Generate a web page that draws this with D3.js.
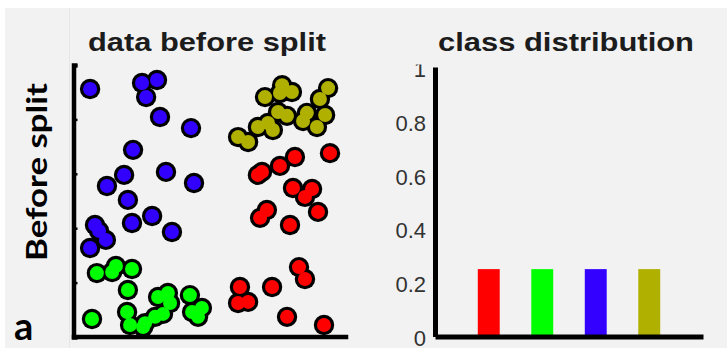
<!DOCTYPE html>
<html>
<head>
<meta charset="utf-8">
<script src="https://cdn.jsdelivr.net/npm/d3@7"></script>
<style>
  html, body { margin: 0; padding: 0; background: #ffffff; }
  svg { display: block; }
</style>
</head>
<body>
<script>
// ---- data ----
const classNames  = ["class 1", "class 2", "class 3", "class 4"];
const classColors = ["#ff0000", "#00ff00", "#3300ff", "#b0b000"];
const classShares = [0.25, 0.25, 0.25, 0.25];
const shareTicks  = [0, 0.2, 0.4, 0.6, 0.8, 1];
const shareTickLabels = ["0", "0.2", "0.4", "0.6", "0.8", "1"];
const featureTicks = [0, 0.2, 0.4, 0.6, 0.8, 1];

// sample positions in the unit square, one list per class
const redPoints = [
  [0.943, 0.676], [0.814, 0.662], [0.759, 0.629], [0.693, 0.607], [0.678, 0.596],
  [0.807, 0.548], [0.877, 0.544], [0.851, 0.515], [0.899, 0.460], [0.711, 0.467],
  [0.686, 0.438], [0.796, 0.412], [0.829, 0.257], [0.851, 0.213], [0.730, 0.184],
  [0.612, 0.184], [0.605, 0.125], [0.642, 0.129], [0.785, 0.074], [0.921, 0.044]
];
const greenPoints = [
  [0.086, 0.235], [0.142, 0.239], [0.156, 0.261], [0.215, 0.250], [0.200, 0.173],
  [0.197, 0.092], [0.208, 0.044], [0.068, 0.066], [0.311, 0.147], [0.347, 0.162],
  [0.355, 0.125], [0.329, 0.085], [0.300, 0.074], [0.263, 0.051], [0.256, 0.037],
  [0.428, 0.154], [0.436, 0.092], [0.472, 0.107], [0.458, 0.074]
];
const bluePoints = [
  [0.061, 0.912], [0.252, 0.934], [0.307, 0.945], [0.267, 0.882], [0.318, 0.809],
  [0.432, 0.768], [0.219, 0.688], [0.340, 0.607], [0.186, 0.596], [0.123, 0.555],
  [0.443, 0.566], [0.200, 0.504], [0.289, 0.445], [0.215, 0.419], [0.362, 0.386],
  [0.079, 0.412], [0.094, 0.390], [0.119, 0.357], [0.061, 0.327]
];
const olivePoints = [
  [0.704, 0.882], [0.759, 0.897], [0.767, 0.926], [0.803, 0.901], [0.936, 0.915],
  [0.906, 0.875], [0.752, 0.827], [0.785, 0.813], [0.858, 0.824], [0.844, 0.794],
  [0.925, 0.816], [0.895, 0.772], [0.678, 0.772], [0.715, 0.787], [0.733, 0.761],
  [0.605, 0.735], [0.642, 0.717]
];
const pointSets = [redPoints, greenPoints, bluePoints, olivePoints];

// ---- canvas ----
const W = 727, H = 348;
const svg = d3.select("body").append("svg")
  .attr("width", W).attr("height", H);

const defs = svg.append("defs");
defs.append("filter").attr("id", "soft")
  .append("feGaussianBlur").attr("stdDeviation", 0.45);
defs.append("clipPath").attr("id", "panelClip")
  .append("rect").attr("x", 370).attr("y", 64.5).attr("width", 357).attr("height", 290);

svg.append("rect").attr("width", W).attr("height", H).attr("fill", "#ffffff");
svg.append("rect").attr("x", 5).attr("y", 8).attr("width", W - 5).attr("height", H - 8)
  .attr("fill", "#f2f2f2");
svg.append("line").attr("x1", 69.5).attr("x2", 69.5).attr("y1", 8).attr("y2", H)
  .attr("stroke", "#e6e6e6").attr("stroke-width", 1);

const titleFont = "Liberation Sans, Arial, sans-serif";

// ---- left panel: scatter ----
const x = d3.scaleLinear().domain([0, 1]).range([73.5, 345.5]);
const y = d3.scaleLinear().domain([0, 1]).range([337, 65]);

const scatter = svg.append("g").attr("filter", "url(#soft)");
const flat = [];
pointSets.forEach((pts, ci) => pts.forEach(p => flat.push({ x: p[0], y: p[1], c: ci })));

// dark rims first, then the fills, so overlapping dots merge into one outline
scatter.append("g").selectAll("circle").data(flat).join("circle")
  .attr("cx", d => x(d.x)).attr("cy", d => y(d.y)).attr("r", 10.2)
  .attr("fill", "#000");
scatter.append("g").selectAll("circle").data(flat).join("circle")
  .attr("cx", d => x(d.x)).attr("cy", d => y(d.y)).attr("r", 7)
  .attr("fill", d => classColors[d.c]);

const yAxisL = svg.append("g").attr("transform", `translate(${x(0)},0)`)
  .call(d3.axisRight(y).tickValues(featureTicks).tickSize(4).tickFormat(""));
yAxisL.select(".domain").attr("stroke", "#000").attr("stroke-width", 4.5);
yAxisL.selectAll(".tick line").attr("stroke", "#000").attr("stroke-width", 2.5);

const xAxisL = svg.append("g").attr("transform", `translate(0,${y(0) - 0.5})`)
  .call(d3.axisBottom(x).tickSize(0).tickFormat(""));
xAxisL.select(".domain").attr("stroke", "#000").attr("stroke-width", 4.5)
  .attr("stroke-linecap", "square");

svg.append("text")
  .attr("x", 207).attr("y", 51)
  .attr("text-anchor", "middle")
  .attr("font-family", titleFont).attr("font-weight", "bold")
  .attr("font-size", 26).attr("fill", "#1c1c1c")
  .attr("textLength", 238).attr("lengthAdjust", "spacingAndGlyphs")
  .text("data before split");

// ---- right panel: class shares ----
const xb = d3.scaleBand().domain(classNames).range([435, 703])
  .paddingInner(0.59).paddingOuter(0.8);
const yb = d3.scaleLinear().domain([0, 1]).range([336.5, 67]);

svg.append("g").selectAll("rect").data(classShares).join("rect")
  .attr("x", (d, i) => xb(classNames[i]))
  .attr("width", xb.bandwidth())
  .attr("y", d => yb(d))
  .attr("height", d => yb(0) - yb(d))
  .attr("fill", (d, i) => classColors[i]);

const yAxisR = svg.append("g").attr("clip-path", "url(#panelClip)")
  .append("g").attr("transform", "translate(435,0)")
  .call(d3.axisLeft(yb).tickValues(shareTicks).tickSize(0).tickPadding(9)
    .tickFormat((d, i) => shareTickLabels[i]));
yAxisR.select(".domain").attr("stroke", "#000").attr("stroke-width", 5);
yAxisR.selectAll(".tick text")
  .attr("font-family", titleFont)
  .attr("font-size", 22).attr("fill", "#333").attr("dy", "0.42em");

const xAxisR = svg.append("g").attr("transform", `translate(0,${yb(0)})`)
  .call(d3.axisBottom(xb).tickSize(0).tickFormat(""));
xAxisR.select(".domain").attr("stroke", "#000").attr("stroke-width", 5);

svg.append("text")
  .attr("x", 566).attr("y", 51)
  .attr("text-anchor", "middle")
  .attr("font-family", titleFont).attr("font-weight", "bold")
  .attr("font-size", 26).attr("fill", "#1c1c1c")
  .attr("textLength", 256).attr("lengthAdjust", "spacingAndGlyphs")
  .text("class distribution");

// ---- row label and panel letter ----
svg.append("text")
  .attr("transform", "translate(47,172) rotate(-90)")
  .attr("text-anchor", "middle")
  .attr("font-family", "Lato, sans-serif").attr("font-weight", "bold")
  .attr("font-size", 29).attr("fill", "#000")
  .attr("textLength", 178).attr("lengthAdjust", "spacingAndGlyphs")
  .text("Before split");

svg.append("text")
  .attr("transform", "translate(14,340)")
  .attr("font-family", "Lato, sans-serif").attr("font-weight", "bold")
  .attr("font-size", 38).attr("fill", "#000")
  .text("a");
</script>
</body>
</html>
